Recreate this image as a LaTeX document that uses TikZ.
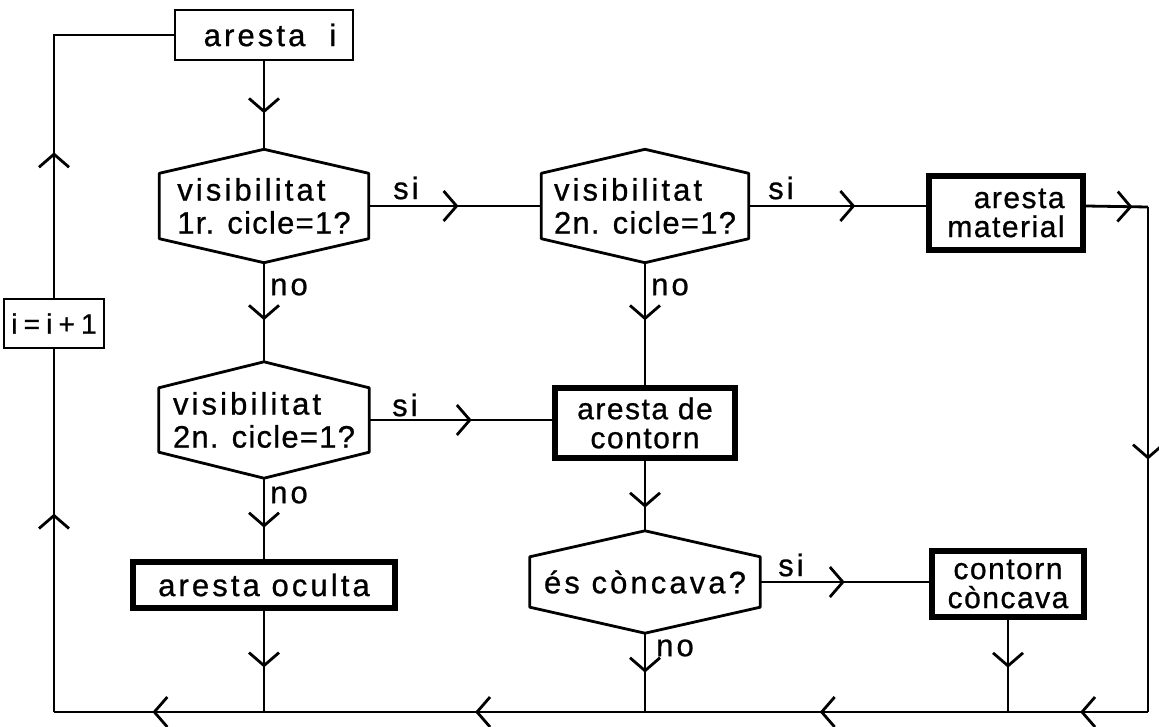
\documentclass[tikz,border=0pt]{standalone}
\usepackage{fontspec}
\setmainfont[LetterSpace=10,FakeBold=0.8]{Liberation Sans}
\usetikzlibrary{arrows.meta,decorations.markings,calc}
\tikzset{
  barb/.tip={Straight Barb[length=13pt,width=30pt,line width=2.8pt]},
  ln/.style={line width=2.8pt},
  midarrow/.style={postaction={decorate},decoration={markings,mark=at position #1 with {\arrow{barb}}}},
  fourarrows/.style={postaction={decorate},decoration={markings,
     mark=at position 0.062 with {\arrow{barb}},
     mark=at position 0.3 with {\arrow{barb}},
     mark=at position 0.615 with {\arrow{barb}},
     mark=at position 0.91 with {\arrow{barb}}}},
  txt/.style={font=\fontsize{31}{33}\selectfont},
  boxtxt/.style={font=\fontsize{30}{29}\selectfont\addfontfeature{LetterSpace=5}},
  box/.style={draw,line width=2.8pt,inner sep=0pt,txt},
  thickbox/.style={draw,line width=5.5pt,inner sep=0pt,txt},
  hextext/.style={inner sep=0pt,txt,align=left},
  lbl/.style={inner sep=0pt,txt,anchor=west},
  hexline/.style={line width=2.8pt,line join=round}
}
\newcommand{\hexa}[2]{% name, point
  \draw[hexline] (#1.north west) -- ([yshift=#2]#1.north) -- (#1.north east) -- (#1.south east) -- ([yshift=-#2]#1.south) -- (#1.south west) -- cycle;
  \coordinate (#1t) at ([yshift=#2]#1.north);
  \coordinate (#1b) at ([yshift=-#2]#1.south);
}
\begin{document}
\begin{tikzpicture}[x=1pt,y=-1pt]
\useasboundingbox (0,0) rectangle (1159,727);
% boxes
\node[box,minimum width=178pt,minimum height=50pt] (ari) at (264,35) {\hspace{12pt}aresta\hspace{24pt}i};
\node[thickbox,boxtxt,minimum width=154pt,minimum height=74pt,align=right] (mat) at (1006,213) {aresta\\material};
\node[thickbox,boxtxt,minimum width=180pt,minimum height=70pt,align=center] (cont) at (645,423) {aresta de\\contorn};
\node[thickbox,minimum width=262pt,minimum height=46pt] (ocu) at (264,585) {aresta oculta};
\node[thickbox,boxtxt,minimum width=152pt,minimum height=66pt,align=center] (cc) at (1008,584) {contorn\\còncava};
\node[box,minimum width=100pt,minimum height=49pt,font=\fontsize{28}{30}\selectfont\addfontfeature{LetterSpace=22}] (inc) at (54,323.5) {i=i+1};
% hexagons (text nodes)
\node[hextext,minimum width=209pt,minimum height=65pt] (h1) at (264,206) {visibilitat\\{\addfontfeature{LetterSpace=4}1r. cicle=1?}};
\node[hextext,minimum width=207pt,minimum height=65pt] (h2) at (645,206) {visibilitat\\{\addfontfeature{LetterSpace=4}2n. cicle=1?}};
\node[hextext,minimum width=210pt,minimum height=64pt] (h3) at (264,420) {visibilitat\\{\addfontfeature{LetterSpace=4}2n. cicle=1?}};
\node[hextext,minimum width=230pt,minimum height=50pt] (h4) at (645,582) {és còncava?};
\hexa{h1}{24pt}
\hexa{h2}{24pt}
\hexa{h3}{26pt}
\hexa{h4}{26pt}
% corner coordinates
\coordinate (ctr) at (1148,207);
\coordinate (cbr) at (1148,712);
\coordinate (cbl) at (54,712);
% labels
\node[lbl] (s1) at (393,188) {si};
\node[lbl] (s2) at (768,188) {si};
\node[lbl] (s3) at (392,405) {si};
\node[lbl] (s4) at (778,565) {si};
\node[lbl] (n1) at (270,287) {no};
\node[lbl] (n2) at (651,287) {no};
\node[lbl] (n3) at (270,495) {no};
\node[lbl] (n4) at (656,648) {no};
% connectors
\draw[ln,midarrow=0.59] (ari.south) -- (h1t);
\draw[ln,midarrow=0.52] (h1.east) -- (h2.west);
\draw[ln,midarrow=0.6] (h2.east) -- (h2.east -| mat.west);
\draw[ln,midarrow=0.75] (h2.east -| mat.east) -- (ctr);
\draw[ln,midarrow=0.5] (ctr) -- (cbr);
\draw[ln,fourarrows] (cbr) -- (cbl);
\draw[ln,midarrow=0.547] (cbl) -- (inc.south);
\draw[ln,midarrow=0.38] (inc.north) -- (inc.north |- ari.west) -- (ari.west);
\draw[ln,midarrow=0.58] (h1b) -- (h3t);
\draw[ln,midarrow=0.47] (h2b) -- (cont.north);
\draw[ln,midarrow=0.56] (h3.east) -- (h3.east -| cont.west);
\draw[ln,midarrow=0.67] (cont.south) -- (h4t);
\draw[ln,midarrow=0.5] (h4.east) -- (h4.east -| cc.west);
\draw[ln,midarrow=0.61] (h3b) -- (ocu.north);
\draw[ln,midarrow=0.56] (ocu.south) -- (ocu.south |- cbl);
\draw[ln,midarrow=0.5] (h4b) -- (h4b |- cbl);
\draw[ln,midarrow=0.52] (cc.south) -- (cc.south |- cbl);
\end{tikzpicture}
\end{document}
